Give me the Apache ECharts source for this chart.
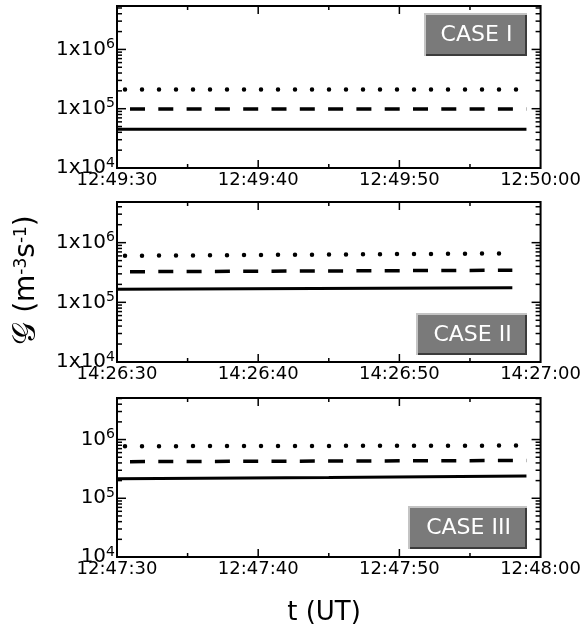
<!DOCTYPE html>
<html><head><meta charset="utf-8">
<script src="https://cdn.jsdelivr.net/npm/echarts@6/dist/echarts.min.js"></script>
<style>html,body{margin:0;padding:0;background:#fff}#c{width:584px;height:631px}</style>
</head><body><div id="c"></div>
<script>
// x ranges in seconds since midnight (UT)
const xMins = [46170, 51990, 46050];   // 12:49:30, 14:26:30, 12:47:30
const xMaxs = [46200, 52020, 46080];   // 12:50:00, 14:27:00, 12:48:00
const yMaxs = [5.4e6, 4.8e6, 5.1e6];
const yMin = 1e4;
const majorY = [1e4, 1e5, 1e6];
const minorY = [2e4,3e4,4e4,5e4,6e4,7e4,8e4,9e4,2e5,3e5,4e5,5e5,6e5,7e5,8e5,9e5,2e6,3e6,4e6,5e6];
const caseLabels = ['CASE I', 'CASE II', 'CASE III'];

// series data: time (s since midnight) and G values (m^-3 s^-1)
const t1 = [46170, 46185, 46199];
const dot1 = [2.1e5, 2.1e5, 2.1e5];
const dash1 = [9.9e4, 9.9e4, 9.9e4];
const solid1 = [4.5e4, 4.5e4, 4.5e4];

const t2 = [51990, 52004, 52018];
const dot2 = [6.0e5, 6.3e5, 6.6e5];
const dash2 = [3.25e5, 3.35e5, 3.45e5];
const solid2 = [1.66e5, 1.70e5, 1.75e5];

const t3 = [46050, 46065, 46079];
const dot3 = [7.7e5, 7.8e5, 7.9e5];
const dash3 = [4.2e5, 4.3e5, 4.4e5];
const solid3 = [2.15e5, 2.25e5, 2.4e5];

const times = [t1, t2, t3];
const dots = [dot1, dot2, dot3];
const dashes = [dash1, dash2, dash3];
const solids = [solid1, solid2, solid3];

const FONT = 'DejaVu Sans';
const grids = [
  {left: 117, top: 6, width: 424, height: 162, show: true, borderColor: '#000', borderWidth: 2, backgroundColor: 'transparent'},
  {left: 117, top: 202, width: 424, height: 160, show: true, borderColor: '#000', borderWidth: 2, backgroundColor: 'transparent'},
  {left: 117, top: 398, width: 424, height: 159, show: true, borderColor: '#000', borderWidth: 2, backgroundColor: 'transparent'}
];
const boxes = [
  {x: 424, y: 13, w: 103, h: 43},
  {x: 416, y: 313, w: 111, h: 42},
  {x: 408, y: 506, w: 119, h: 43}
];

function fmtTime(v) {
  const h = Math.floor(v / 3600), m = Math.floor((v % 3600) / 60), s = Math.round(v % 60);
  const p = n => (n < 10 ? '0' : '') + n;
  return h + ':' + p(m) + ':' + p(s);
}

const xAxes = [], yAxes = [], series = [], graphics = [];
for (let p = 0; p < 3; p++) {
  xAxes.push({type: 'value', gridIndex: p, position: 'bottom', min: xMins[p], max: xMaxs[p], interval: 10,
    splitLine: {show: false}, axisLine: {show: false}, axisTick: {show: false},
    minorTick: {show: false}, minorSplitLine: {show: false},
    axisLabel: {show: true, margin: 3, color: '#000', fontFamily: FONT, fontSize: 18,
      showMinLabel: true, showMaxLabel: true, formatter: fmtTime}});
  const noExp = (p === 2);
  yAxes.push({type: 'log', gridIndex: p, position: 'left', min: yMin, max: yMaxs[p],
    splitLine: {show: false}, minorTick: {show: false}, axisLine: {show: false}, axisTick: {show: false},
    axisLabel: {show: true, margin: 2, color: '#000', fontFamily: FONT, fontSize: 20,
      customValues: majorY,
      formatter: v => (noExp ? '10' : '1x10') + '{sup|' + Math.round(Math.log10(v)) + '}',
      rich: {sup: {fontSize: 14, fontFamily: FONT, color: '#000', verticalAlign: 'bottom', padding: [0, 0, 10, 0]}}}});

  const mk = (vals, ls) => ({type: 'line', xAxisIndex: p, yAxisIndex: p, symbol: 'none',
    silent: true, animation: false, lineStyle: ls,
    data: times[p].map((t, i) => [t, vals[i]])});
  series.push(mk(dots[p], {color: '#000', width: 4.5, type: [0, 17], cap: 'round', dashOffset: 9}));
  series.push(mk(dashes[p], {color: '#000', width: 3.5, type: [15, 13.3], cap: 'butt', dashOffset: 15.3}));
  series.push(mk(solids[p], {color: '#000', width: 3}));

  const b = boxes[p];
  graphics.push({type: 'group', left: b.x, top: b.y, children: [
    {type: 'rect', shape: {x: 0, y: 0, width: b.w, height: b.h}, style: {fill: '#c4c4c4'}},
    {type: 'rect', shape: {x: 2, y: 2, width: b.w - 2, height: b.h - 2}, style: {fill: '#3c3c3c'}},
    {type: 'rect', shape: {x: 2, y: 2, width: b.w - 4, height: b.h - 4}, style: {fill: '#7a7a7a'}},
    {type: 'text', x: b.w / 2 + 1, y: b.h / 2 + 1, style: {text: caseLabels[p], fill: '#fff',
      font: '22px "' + FONT + '"', textAlign: 'center', textVerticalAlign: 'middle'}}
  ]});
}

graphics.push({type: 'text', x: 324, y: 613, style: {text: 't (UT)', fill: '#000',
  font: '26px "' + FONT + '"', textAlign: 'center', textVerticalAlign: 'middle'}});
graphics.push({type: 'text', x: 27, y: 280, rotation: Math.PI / 2, style: {
  text: '{g|𝒢} (m{sup|-3}s{sup|-1})', fill: '#000', font: '28px "' + FONT + '"',
  textAlign: 'center', textVerticalAlign: 'middle',
  rich: {g: {fontSize: 32, fontFamily: FONT, fill: '#000'},
         sup: {fontSize: 17, fontFamily: FONT, fill: '#000', verticalAlign: 'bottom', padding: [0, 0, 13, 0]}}}});

const chart = echarts.init(document.getElementById('c'), null, {renderer: 'canvas'});
chart.setOption({backgroundColor: '#fff', animation: false, grid: grids,
  xAxis: xAxes, yAxis: yAxes, series: series});

// inward tick marks on all four sides, placed through the axes' own scales
const TW = 1.5;
const tickRects = [];
const tick = (x, y, w, h) => tickRects.push({type: 'rect', silent: true, z: 10,
  shape: {x: x, y: y, width: w, height: h}, style: {fill: '#000'}});
for (let p = 0; p < 3; p++) {
  const xL = chart.convertToPixel({xAxisIndex: p}, xMins[p]);
  const xR = chart.convertToPixel({xAxisIndex: p}, xMaxs[p]);
  const yB = chart.convertToPixel({yAxisIndex: p}, yMin);
  const yT = chart.convertToPixel({yAxisIndex: p}, yMaxs[p]);
  for (let v = xMins[p] + 5; v < xMaxs[p]; v += 5) {
    const px = chart.convertToPixel({xAxisIndex: p}, v);
    const len = (v % 10 === 0) ? 8 : 4;
    tick(px - TW / 2, yB - len, TW, len);
    tick(px - TW / 2, yT, TW, len);
  }
  const yTicks = majorY.map(v => [v, 9]).concat(minorY.map(v => [v, 5]));
  yTicks.forEach(([v, len]) => {
    if (v <= yMin || v >= yMaxs[p]) return;
    const py = chart.convertToPixel({yAxisIndex: p}, v);
    tick(xL, py - TW / 2, len, TW);
    tick(xR - len, py - TW / 2, len, TW);
  });
}
chart.setOption({graphic: graphics.concat(tickRects)});
</script></body></html>
